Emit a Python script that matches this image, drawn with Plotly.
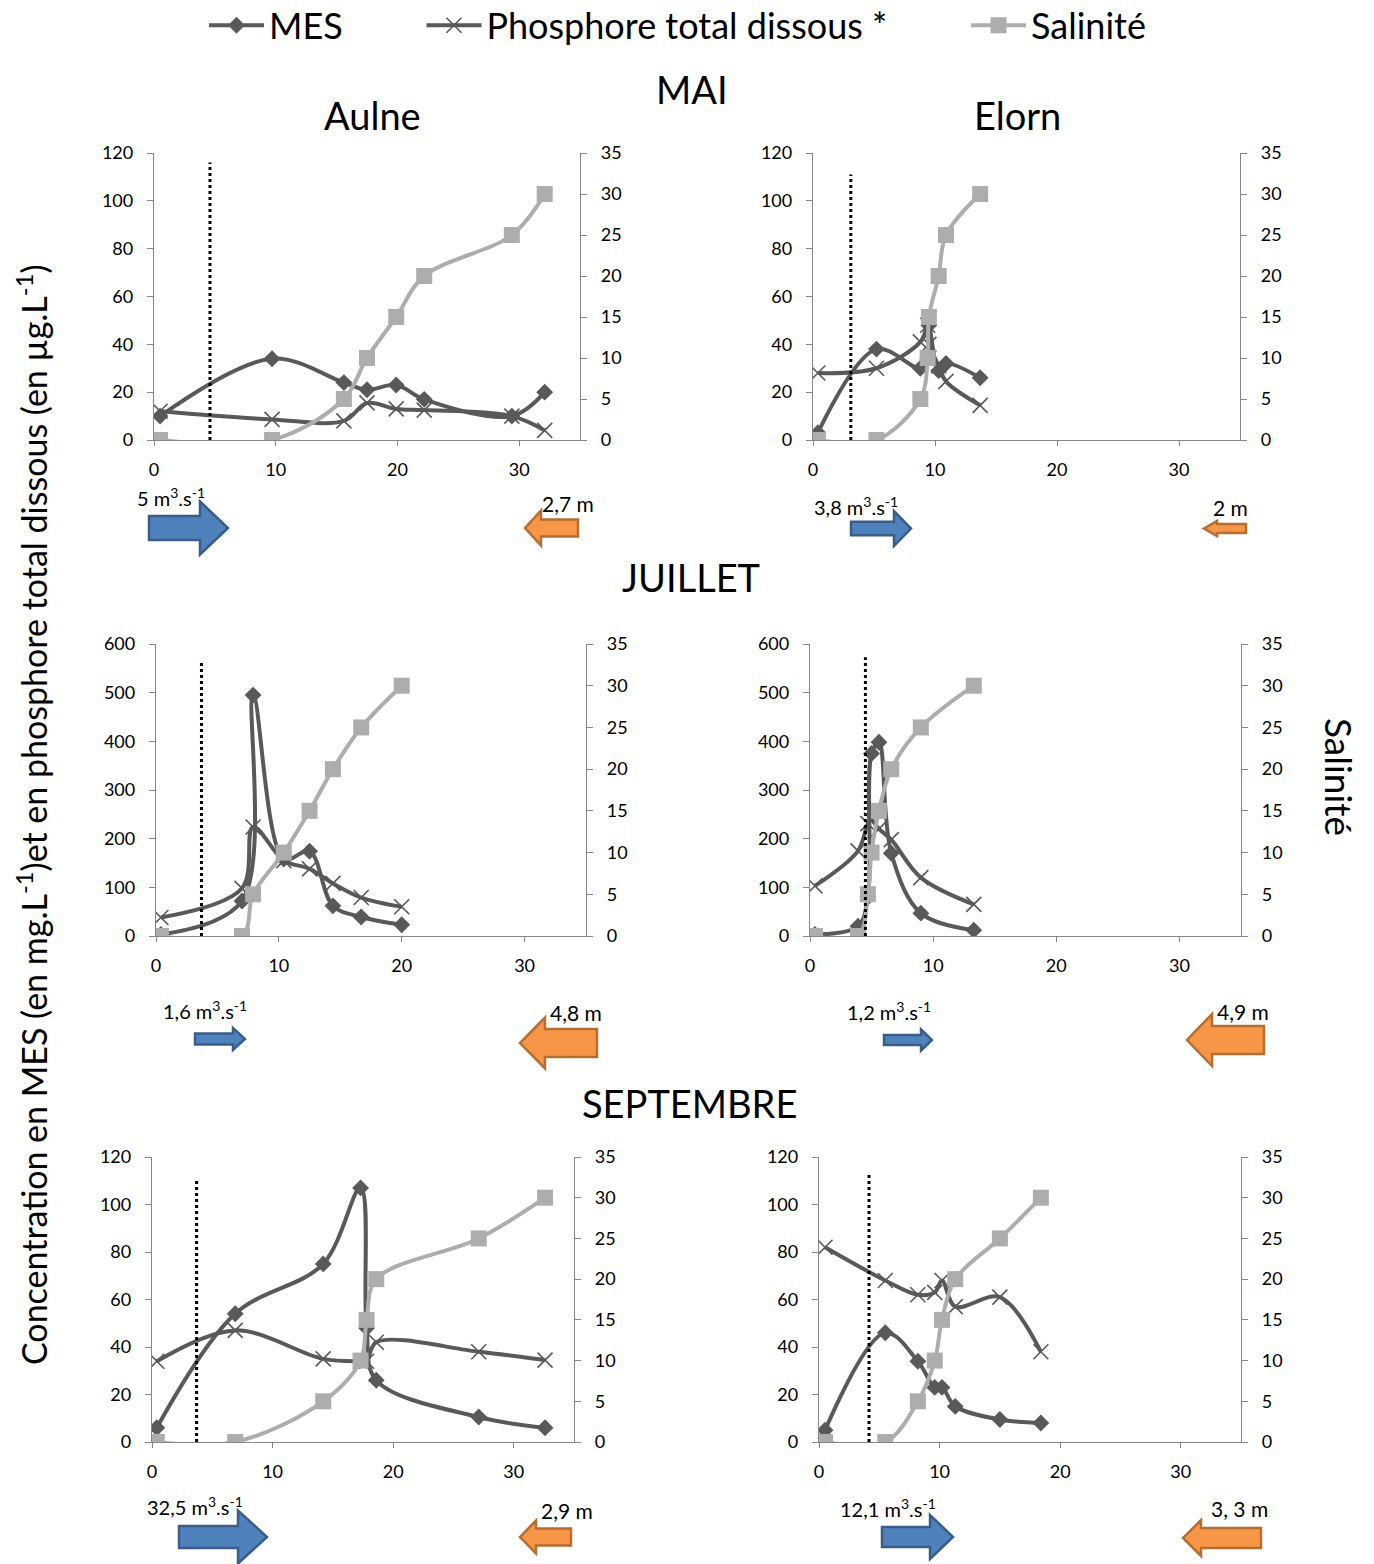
import plotly.graph_objects as go

# ---------------- DATA ----------------
salinity_levels = [0, 0, 5, 10, 15, 20, 25, 30]

# MAI - Aulne
mai_aulne_dist = [0.5, 9.7, 15.6, 17.5, 19.9, 22.2, 29.4, 32.1]
mai_aulne_mes = [10, 34, 24, 21, 23, 17, 10, 20]
mai_aulne_p = [12, 8.6, 8, 15.5, 13, 12.5, 10, 4]
mai_aulne_sal = salinity_levels

# MAI - Elorn
mai_elorn_dist = [0.4, 5.2, 8.8, 9.4, 9.5, 10.3, 10.9, 13.7]
mai_elorn_mes = [3, 38, 30, 34, 48, 29, 32, 26]
mai_elorn_p = [28, 30, 41, 48, 40, 31, 24.5, 14.5]
mai_elorn_sal = salinity_levels

# JUILLET - Aulne
jui_aulne_dist = [0.4, 7.0, 7.9, 10.4, 12.5, 14.4, 16.7, 20.0]
jui_aulne_mes = [3, 72, 495, 158, 174, 62, 39, 23]
jui_aulne_p = [38, 98, 224, 155, 138, 108, 79, 60]
jui_aulne_sal = salinity_levels

# JUILLET - Elorn
jui_elorn_dist = [0.4, 3.9, 4.7, 5.0, 5.6, 6.6, 9.0, 13.3]
jui_elorn_mes = [3, 20, 80, 375, 398, 170, 47, 12]
jui_elorn_p = [103, 175, 231, 238, 220, 198, 120, 65]
jui_elorn_sal = salinity_levels

# SEPTEMBRE - Aulne
sep_aulne_dist = [0.4, 6.9, 14.2, 17.3, 17.8, 18.6, 27.1, 32.6]
sep_aulne_mes = [6, 54, 75, 107, 48, 26, 10.5, 6]
sep_aulne_p = [34, 47, 35, 34, 34, 42, 38, 34.5]
sep_aulne_sal = salinity_levels

# SEPTEMBRE - Elorn
sep_elorn_dist = [0.5, 5.5, 8.2, 9.6, 10.2, 11.3, 15.0, 18.4]
sep_elorn_mes = [5, 46, 34, 23, 23, 15, 9.5, 8]
sep_elorn_p = [82, 68, 62, 63, 68, 57, 61, 38]
sep_elorn_sal = salinity_levels

# limit of salt intrusion (dotted line) position and height
limit_x = [4.6, 3.1, 3.7, 4.5, 3.7, 4.15]
limit_top = [116, 111, 563, 573, 111, 113]

left_max = [120, 120, 600, 600, 120, 120]
left_dtick = [20, 20, 100, 100, 20, 20]

river_labels = ["5 m<sup>3</sup>.s<sup>-1</sup>", "3,8 m<sup>3</sup>.s<sup>-1</sup>",
                "1,6 m<sup>3</sup>.s<sup>-1</sup>", "1,2 m<sup>3</sup>.s<sup>-1</sup>",
                "32,5 m<sup>3</sup>.s<sup>-1</sup>", "12,1 m<sup>3</sup>.s<sup>-1</sup>"]
tide_labels = ["2,7 m", "2 m", "4,8 m", "4,9 m", "2,9 m", "3, 3 m"]

series_names = ["MES", "Phosphore total dissous *", "Salinité"]

panels = [
    (mai_aulne_dist, mai_aulne_mes, mai_aulne_p, mai_aulne_sal),
    (mai_elorn_dist, mai_elorn_mes, mai_elorn_p, mai_elorn_sal),
    (jui_aulne_dist, jui_aulne_mes, jui_aulne_p, jui_aulne_sal),
    (jui_elorn_dist, jui_elorn_mes, jui_elorn_p, jui_elorn_sal),
    (sep_aulne_dist, sep_aulne_mes, sep_aulne_p, sep_aulne_sal),
    (sep_elorn_dist, sep_elorn_mes, sep_elorn_p, sep_elorn_sal),
]

# ---------------- LAYOUT GEOMETRY (pixels) ----------------
W, H = 1374, 1564
FONT = "Lato"
DARK = "#595959"
LIGHT = "#ADADAD"
AXC = "#868686"
NB = "\u00a0"


def px(x):
    return x / W


def py(y):
    return 1 - y / H


domains = [((154, 580), (153, 440)), ((813, 1240), (153, 440)),
           ((156, 586), (644, 936)), ((810, 1241), (644, 936)),
           ((152, 574), (1157, 1442)), ((819, 1241), (1157, 1442))]

# arrows: (x_left, x_right, head_x, y_center, body_h, head_h)
blue_arrows = [(149, 228, 200, 528, 24, 53), (851, 911, 894, 528.5, 13.5, 35),
               (195, 245, 233, 1039, 11, 22), (884, 932, 921, 1040, 10, 21),
               (179, 267, 238, 1537, 22, 53), (882, 953, 930, 1537, 20, 44)]
orange_arrows = [(525, 578, 541, 528, 17, 35), (1204, 1246, 1217, 528.5, 9, 15),
                 (520, 597, 545, 1043, 28, 51), (1187, 1264, 1212, 1040, 28, 52),
                 (520, 571, 536, 1537, 17, 33), (1183, 1261, 1201, 1538, 20, 36)]
river_label_pos = [(171, 497), (856, 506), (205, 1010), (889, 1011), (195, 1506), (888, 1508)]
tide_label_pos = [(568, 503), (1230, 508), (576, 1012), (1243, 1011), (567, 1510), (1239, 1508)]
legend_pad = [8, 8, 0]

fig = go.Figure()
layout = {}
shapes = []
annotations = []

for i, (dist, mes, p, sal) in enumerate(panels):
    k = i + 1
    xa = "x" if k == 1 else f"x{k}"
    ya1 = "y" if k == 1 else f"y{2*k-1}"
    ya2 = f"y{2*k}"
    (x0, x1), (ytop, ybot) = domains[i]
    show = (k == 1)
    fig.add_trace(go.Scatter(
        x=dist, y=mes, name=series_names[0] + NB * legend_pad[0], xaxis=xa, yaxis=ya1,
        mode="lines+markers", line=dict(color=DARK, width=4, shape="spline", smoothing=1),
        marker=dict(symbol="diamond", size=13, color=DARK), showlegend=show, legendrank=1))
    fig.add_trace(go.Scatter(
        x=dist, y=p, name=series_names[1] + NB * legend_pad[1], xaxis=xa, yaxis=ya1,
        mode="lines+markers", line=dict(color=DARK, width=4, shape="spline", smoothing=1),
        marker=dict(symbol="x-thin", size=15, color=DARK, line=dict(color=DARK, width=1.6)),
        showlegend=show, legendrank=2))
    fig.add_trace(go.Scatter(
        x=dist, y=sal, name=series_names[2], xaxis=xa, yaxis=ya2, mode="lines+markers",
        line=dict(color=LIGHT, width=4, shape="spline", smoothing=1),
        marker=dict(symbol="square", size=16, color=LIGHT), showlegend=show, legendrank=3))

    tickfont = dict(family=FONT, size=18, color="black")
    layout["xaxis" if k == 1 else f"xaxis{k}"] = dict(
        domain=[px(x0), px(x1)], anchor=ya1, range=[0, 35], tickvals=[0, 10, 20, 30],
        showline=True, linecolor=AXC, linewidth=1.3, ticks="outside", ticklen=5, tickcolor=AXC,
        showgrid=False, zeroline=False, tickfont=tickfont, ticklabelstandoff=8, fixedrange=True)
    layout["yaxis" if k == 1 else f"yaxis{2*k-1}"] = dict(
        domain=[py(ybot), py(ytop)], anchor=xa, range=[0, left_max[i]], dtick=left_dtick[i],
        showline=True, linecolor=AXC, linewidth=1.3, ticks="outside", ticklen=6, tickcolor=AXC,
        showgrid=False, zeroline=False, tickfont=tickfont, ticklabelstandoff=10, fixedrange=True)
    layout[f"yaxis{2*k}"] = dict(
        domain=[py(ybot), py(ytop)], anchor=xa, overlaying=ya1, side="right", range=[0, 35], dtick=5,
        showline=True, linecolor=AXC, linewidth=1.3, ticks="outside", ticklen=6, tickcolor=AXC,
        showgrid=False, zeroline=False, tickfont=tickfont, ticklabelstandoff=10, fixedrange=True)

    # dotted line (salt intrusion limit)
    shapes.append(dict(type="line", xref=xa, yref=ya1, x0=limit_x[i], x1=limit_x[i],
                       y0=0, y1=limit_top[i], line=dict(color="black", width=3, dash="dot")))

    # blue arrow (pointing right)
    a, b, hx, yc, bh, hh = blue_arrows[i]
    pts = [(a, yc - bh / 2), (hx, yc - bh / 2), (hx, yc - hh / 2), (b, yc),
           (hx, yc + hh / 2), (hx, yc + bh / 2), (a, yc + bh / 2)]
    path = "M " + " L ".join(f"{px(u):.5f},{py(v):.5f}" for u, v in pts) + " Z"
    shapes.append(dict(type="path", xref="paper", yref="paper", path=path,
                       fillcolor="#4F81BD", line=dict(color="#385D8A", width=2.5)))
    # orange arrow (pointing left)
    a, b, hx, yc, bh, hh = orange_arrows[i]
    pts = [(b, yc - bh / 2), (hx, yc - bh / 2), (hx, yc - hh / 2), (a, yc),
           (hx, yc + hh / 2), (hx, yc + bh / 2), (b, yc + bh / 2)]
    path = "M " + " L ".join(f"{px(u):.5f},{py(v):.5f}" for u, v in pts) + " Z"
    shapes.append(dict(type="path", xref="paper", yref="paper", path=path,
                       fillcolor="#F79646", line=dict(color="#B66D31", width=2.5)))

    lx, ly = river_label_pos[i]
    annotations.append(dict(text=river_labels[i], x=px(lx), y=py(ly), xref="paper", yref="paper",
                            showarrow=False, xanchor="center", yanchor="middle",
                            font=dict(family=FONT, size=20, color="black")))
    lx, ly = tide_label_pos[i]
    annotations.append(dict(text=tide_labels[i], x=px(lx), y=py(ly), xref="paper", yref="paper",
                            showarrow=False, xanchor="center", yanchor="middle",
                            font=dict(family=FONT, size=21, color="black")))

titles = [("MAI", 692, 89), ("Aulne", 372, 115), ("Elorn", 1017, 115),
          ("JUILLET", 691, 577), ("SEPTEMBRE", 690, 1103)]
for t, x, y in titles:
    annotations.append(dict(text=t, x=px(x), y=py(y), xref="paper", yref="paper", showarrow=False,
                            xanchor="center", yanchor="middle",
                            font=dict(family=FONT, size=38, color="black")))

annotations.append(dict(
    text="Concentration en MES (en mg.L<sup>-1</sup>)et en phosphore total dissous (en µg.L<sup>-1</sup>)",
    x=px(32), y=py(815), xref="paper", yref="paper", showarrow=False, textangle=-90,
    xanchor="center", yanchor="middle", font=dict(family=FONT, size=34, color="black")))
annotations.append(dict(
    text="Salinité", x=px(1340), y=py(777), xref="paper", yref="paper", showarrow=False, textangle=90,
    xanchor="center", yanchor="middle", font=dict(family=FONT, size=37, color="black")))

fig.update_layout(
    width=W, height=H, margin=dict(l=0, r=0, t=0, b=0, autoexpand=False),
    paper_bgcolor="white", plot_bgcolor="white",
    font=dict(family=FONT, color="black"),
    shapes=shapes, annotations=annotations,
    legend=dict(orientation="h", x=px(204), xanchor="left", y=1.003, yanchor="top",
                font=dict(family=FONT, size=36, color="black"), bgcolor="rgba(0,0,0,0)",
                itemwidth=55, traceorder="normal"),
    **layout,
)

fig.write_html("out.html", config={"displayModeBar": False},
               post_script="document.body.style.margin='0';document.body.style.overflow='hidden';")
